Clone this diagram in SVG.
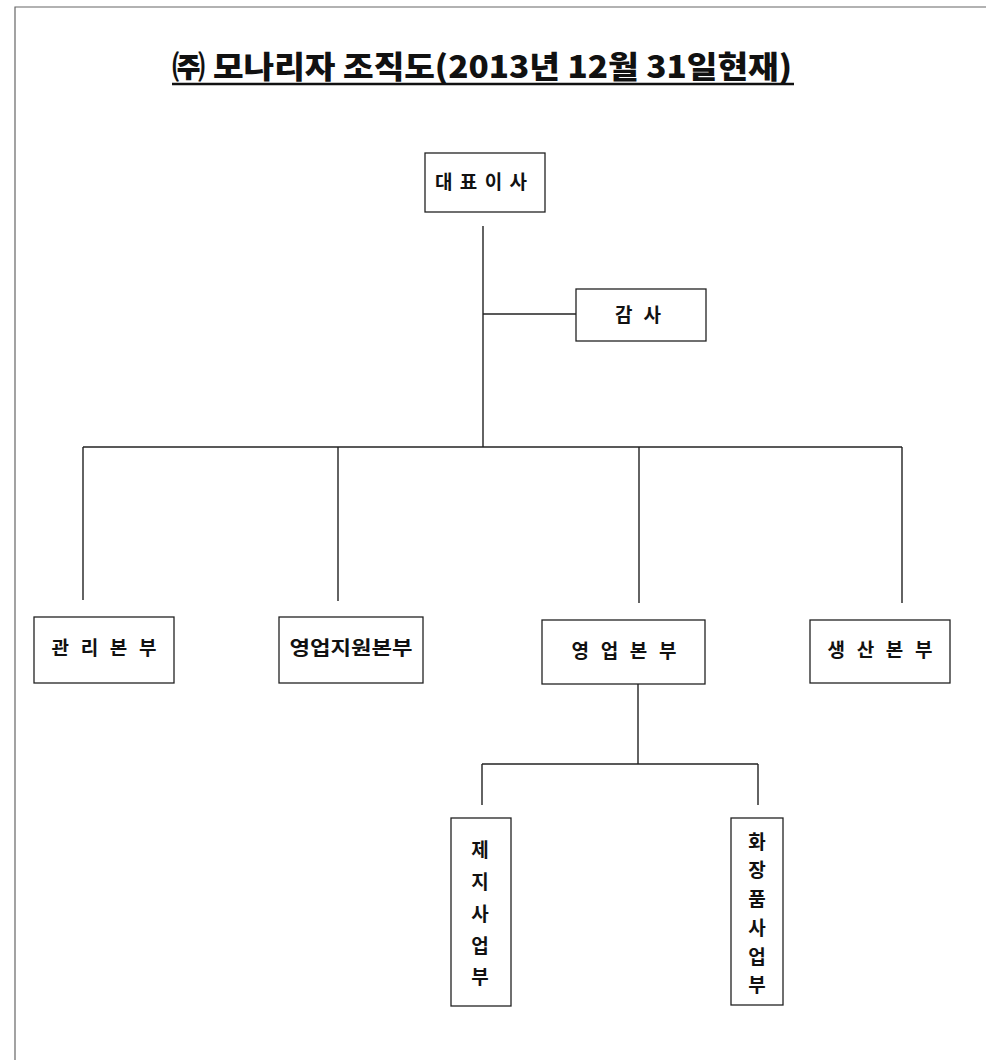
<svg xmlns="http://www.w3.org/2000/svg" width="986" height="1060" viewBox="0 0 986 1060">
<style>
.box{fill:#fff;stroke:#222;stroke-width:1.3}
.lbl{font-family:"Noto Sans CJK KR","Noto Sans",sans-serif;font-weight:bold;font-size:19px;fill:#111}
.ln{stroke:#222;stroke-width:1.4;fill:none}
.frame{stroke:#666;stroke-width:1.2;fill:none}
</style>
<rect width="986" height="1060" fill="#fff"/>
<path class="frame" d="M15,1060 V7 H986"/>
<g id="title">
<text x="482" y="78" text-anchor="middle" textLength="620" lengthAdjust="spacingAndGlyphs" style="font-family:'Noto Sans CJK KR','Liberation Sans',sans-serif;font-weight:900;font-size:31px;fill:#111">㈜ 모나리자 조직도(2013년 12월 31일현재)</text>
<line x1="172" y1="84" x2="794" y2="84" stroke="#111" stroke-width="2.5"/>
</g>
<g id="connectors">
<line class="ln" x1="483" y1="226" x2="483" y2="447" stroke-width="2.2"/>
<line class="ln" x1="483" y1="314" x2="576" y2="314"/>
<line class="ln" x1="83" y1="447" x2="902" y2="447"/>
<line class="ln" x1="83" y1="447" x2="83" y2="600"/>
<line class="ln" x1="338" y1="447" x2="338" y2="601"/>
<line class="ln" x1="639" y1="447" x2="639" y2="603"/>
<line class="ln" x1="902" y1="447" x2="902" y2="603"/>
<line class="ln" x1="638" y1="684" x2="638" y2="764"/>
<line class="ln" x1="482" y1="764" x2="758" y2="764"/>
<line class="ln" x1="482" y1="764" x2="482" y2="805"/>
<line class="ln" x1="758" y1="764" x2="758" y2="805"/>
</g>
<g id="ceo">
<rect class="box" x="425" y="153" width="120" height="59"/>
<text class="lbl" x="481" y="189" text-anchor="middle" textLength="92" lengthAdjust="spacing">대 표 이 사</text>
</g>
<g id="audit">
<rect class="box" x="576" y="289" width="130" height="52"/>
<text class="lbl" x="638" y="322" text-anchor="middle" textLength="46" lengthAdjust="spacing">감 사</text>
</g>
<g id="mgmt">
<rect class="box" x="34" y="617" width="140" height="66"/>
<text class="lbl" x="104" y="655" text-anchor="middle" textLength="105" lengthAdjust="spacing">관 리 본 부</text>
</g>
<g id="salessupport">
<rect class="box" x="279" y="617" width="144" height="66"/>
<text class="lbl" x="351" y="655" text-anchor="middle" textLength="123" lengthAdjust="spacingAndGlyphs">영업지원본부</text>
</g>
<g id="sales">
<rect class="box" x="542" y="620" width="163" height="64"/>
<text class="lbl" x="624" y="658" text-anchor="middle" textLength="105" lengthAdjust="spacing">영 업 본 부</text>
</g>
<g id="production">
<rect class="box" x="810" y="620" width="140" height="63"/>
<text class="lbl" x="880" y="657" text-anchor="middle" textLength="105" lengthAdjust="spacing">생 산 본 부</text>
</g>
<g id="paper">
<rect class="box" x="451" y="818" width="60" height="188"/>
<text class="lbl" text-anchor="middle"><tspan x="480" y="857">제</tspan><tspan x="480" y="889">지</tspan><tspan x="480" y="921">사</tspan><tspan x="480" y="953">업</tspan><tspan x="480" y="984">부</tspan></text>
</g>
<g id="cosmetics">
<rect class="box" x="731" y="818" width="52" height="187"/>
<text class="lbl" text-anchor="middle"><tspan x="757" y="849">화</tspan><tspan x="757" y="877">장</tspan><tspan x="757" y="906">품</tspan><tspan x="757" y="935">사</tspan><tspan x="757" y="964">업</tspan><tspan x="757" y="992">부</tspan></text>
</g>
</svg>
